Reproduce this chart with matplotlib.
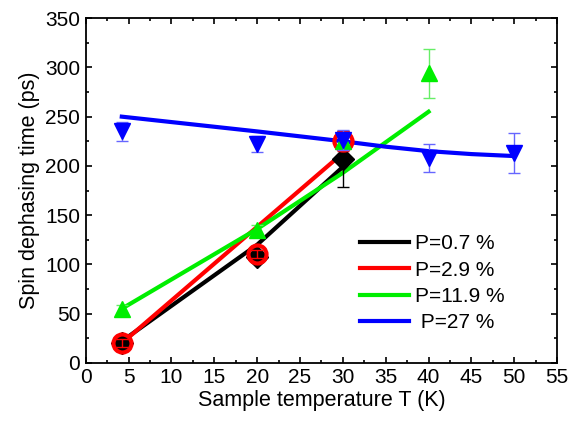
import matplotlib
matplotlib.use("Agg")
import matplotlib.pyplot as plt
from matplotlib.ticker import MultipleLocator

plt.rcParams['font.family'] = ['Liberation Sans', 'DejaVu Sans']

# measured points
temp_black = [4.2, 20, 30]
tau_black = [20, 108, 207]
err_black = [6, 5, 28]

temp_red = [4.2, 20, 30]
tau_red = [20, 111, 225]
err_red = [4, 4, 10]

temp_green = [4.2, 20, 30, 40]
tau_green = [55, 135, 225, 294]
err_green = [4, 5, 8, 25]

temp_blue = [4.2, 20, 30, 40, 50]
tau_blue = [235, 222, 226, 208, 213]
err_blue = [10, 8, 10, 14, 20]

# model curves
fit_t_black = [4.2, 20, 30]
fit_black = [22, 120, 199]
fit_t_red = [4.2, 30]
fit_red = [20, 213]
fit_t_green = [4.2, 20, 30, 40]
fit_green = [55, 136, 193, 255]
fit_t_blue = [4.2, 20, 30, 35, 40, 45, 50]
fit_blue = [250, 235, 225, 219.5, 215, 212, 210]

labels = ['P=0.7 %', 'P=2.9 %', 'P=11.9 %', ' P=27 %']

fig = plt.figure(figsize=(5.72, 4.22), dpi=100)
ax = fig.add_axes([0.150, 0.140, 0.824, 0.817])

l1, = ax.plot(fit_t_black, fit_black, color='black', lw=3, zorder=3)
l2, = ax.plot(fit_t_red, fit_red, color='red', lw=3, zorder=3)
l3, = ax.plot(fit_t_green, fit_green, color='#00ee00', lw=3, zorder=3)
l4, = ax.plot(fit_t_blue, fit_blue, color='#0000ff', lw=3, zorder=3)

ax.errorbar(temp_black, tau_black, yerr=err_black, fmt='none',
            ecolor='black', elinewidth=1, capsize=4, zorder=4)
ax.plot(temp_black, tau_black, 'D', color='black', ms=11, zorder=4.5)

ax.errorbar(temp_red, tau_red, yerr=err_red, fmt='none',
            ecolor='red', elinewidth=1, capsize=4, zorder=5)
ax.plot(temp_red, tau_red, 'o', markerfacecolor='none', markeredgecolor='red',
        markeredgewidth=3, ms=13, zorder=5.5)

ax.errorbar(temp_green, tau_green, yerr=err_green, fmt='none',
            ecolor='#66ee66', elinewidth=1, capsize=4, zorder=6)
ax.plot(temp_green, tau_green, '^', color='#00ee00', ms=12, zorder=6.5)

ax.errorbar(temp_blue, tau_blue, yerr=err_blue, fmt='none',
            ecolor='#6666ff', elinewidth=1, capsize=4, zorder=7)
ax.plot(temp_blue, tau_blue, 'v', color='#0000ff', ms=12, zorder=7.5)

ax.set_xlim(0, 55)
ax.set_ylim(0, 350)
ax.xaxis.set_major_locator(MultipleLocator(5))
ax.xaxis.set_minor_locator(MultipleLocator(2.5))
ax.yaxis.set_major_locator(MultipleLocator(50))
ax.yaxis.set_minor_locator(MultipleLocator(25))
ax.tick_params(which='both', direction='in', top=True, right=True, width=1.2)
ax.tick_params(which='major', length=4.5, labelsize=15, pad=4)
ax.tick_params(which='minor', length=2.5)
for s in ax.spines.values():
    s.set_linewidth(1.3)

ax.set_xlabel('Sample temperature T (K)', fontsize=15.5, labelpad=2)
ax.set_ylabel('Spin dephasing time (ps)', fontsize=15.5, labelpad=4)

ax.legend([l1, l2, l3, l4], labels, loc='center left',
          bbox_to_anchor=(0.582, 0.231), frameon=False, fontsize=15,
          handlelength=2.35, handletextpad=0.3, labelspacing=0.35,
          borderpad=0, borderaxespad=0)

fig.savefig('out.png', dpi=100)
